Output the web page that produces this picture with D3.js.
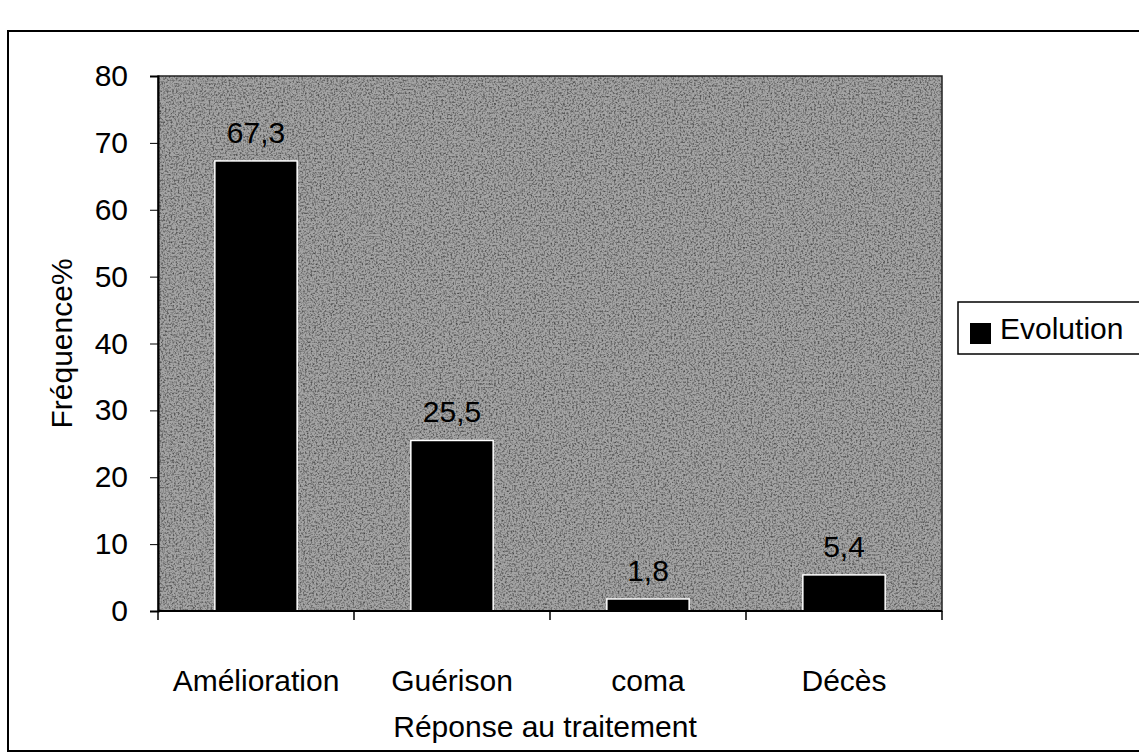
<!DOCTYPE html>
<html>
<head>
<meta charset="utf-8">
<script src="https://cdn.jsdelivr.net/npm/d3@7"></script>
<style>
  body { margin: 0; background: #fff; }
  svg text { font-family: "Liberation Sans", Arial, sans-serif; fill: #000; }
</style>
</head>
<body>
<div id="chart"></div>
<script>
const categories = ['Amélioration', 'Guérison', 'coma', 'Décès'];
const values = [67.3, 25.5, 1.8, 5.4];
const yTicks = [0, 10, 20, 30, 40, 50, 60, 70, 80];
const seriesName = 'Evolution';

const W = 1139, H = 754;
const fontSize = '30px';
// plot area
const plot = { left: 158, top: 76, right: 942, bottom: 611 };

const svg = d3.select('#chart').append('svg')
  .attr('width', W)
  .attr('height', H);

// grainy grey fill like the scanned background
const defs = svg.append('defs');
const f = defs.append('filter').attr('id', 'grain')
  .attr('x', 0).attr('y', 0).attr('width', 1).attr('height', 1);
f.append('feTurbulence')
  .attr('type', 'fractalNoise')
  .attr('baseFrequency', 0.55)
  .attr('numOctaves', 2)
  .attr('seed', 7)
  .attr('result', 'noise');
f.append('feColorMatrix')
  .attr('in', 'noise')
  .attr('type', 'matrix')
  .attr('values', '0 0 0 0 0  0 0 0 0 0  0 0 0 0 0  0 0 0 -2.2 1.25');

// outer frame
svg.append('rect')
  .attr('x', 8).attr('y', 31)
  .attr('width', W + 10).attr('height', 720)
  .attr('fill', 'none')
  .attr('stroke', '#000')
  .attr('stroke-width', 2);

const x = d3.scaleBand()
  .domain(categories)
  .range([plot.left, plot.right])
  .paddingInner(0.58)
  .paddingOuter(0.29);

const y = d3.scaleLinear()
  .domain([0, 80])
  .range([plot.bottom, plot.top]);

// plot background
svg.append('rect')
  .attr('x', plot.left).attr('y', plot.top)
  .attr('width', plot.right - plot.left)
  .attr('height', plot.bottom - plot.top)
  .attr('fill', '#a4a4a4');
svg.append('rect')
  .attr('x', plot.left).attr('y', plot.top)
  .attr('width', plot.right - plot.left)
  .attr('height', plot.bottom - plot.top)
  .attr('fill', '#000')
  .attr('filter', 'url(#grain)')
  .attr('opacity', 0.6);
svg.append('rect')
  .attr('x', plot.left).attr('y', plot.top)
  .attr('width', plot.right - plot.left)
  .attr('height', plot.bottom - plot.top)
  .attr('fill', 'none')
  .attr('stroke', '#222')
  .attr('stroke-width', 1.5);

// bars
svg.selectAll('.bar')
  .data(values)
  .enter()
  .append('rect')
  .attr('class', 'bar')
  .attr('x', (d, i) => x(categories[i]))
  .attr('y', d => y(d))
  .attr('width', x.bandwidth())
  .attr('height', d => y(0) - y(d))
  .attr('fill', '#000')
  .attr('stroke', '#fff')
  .attr('stroke-width', 1.5);

// value labels
svg.selectAll('.val')
  .data(values)
  .enter()
  .append('text')
  .attr('class', 'val')
  .attr('x', (d, i) => x(categories[i]) + x.bandwidth() / 2)
  .attr('y', d => y(d) - 18)
  .attr('text-anchor', 'middle')
  .style('font-size', fontSize)
  .text(d => String(d).replace('.', ','));

// y axis
const yAxis = svg.append('g')
  .attr('transform', 'translate(' + plot.left + ',0)')
  .call(d3.axisLeft(y).tickValues(yTicks).tickSize(8).tickPadding(22));
yAxis.select('.domain').attr('stroke-width', 2);
yAxis.selectAll('text').style('font-size', fontSize);

// x axis with ticks between categories
const bw = (plot.right - plot.left) / categories.length;
const xAxis = svg.append('g')
  .attr('transform', 'translate(0,' + plot.bottom + ')');
xAxis.append('line')
  .attr('x1', plot.left).attr('x2', plot.right)
  .attr('stroke', '#000').attr('stroke-width', 2);
xAxis.selectAll('.xt')
  .data(d3.range(categories.length + 1))
  .enter()
  .append('line')
  .attr('x1', i => plot.left + i * bw)
  .attr('x2', i => plot.left + i * bw)
  .attr('y1', 0).attr('y2', 9)
  .attr('stroke', '#000')
  .attr('stroke-width', 1.5);
xAxis.selectAll('.xl')
  .data(categories)
  .enter()
  .append('text')
  .attr('x', d => x(d) + x.bandwidth() / 2)
  .attr('y', 80)
  .attr('text-anchor', 'middle')
  .style('font-size', fontSize)
  .text(d => d);

// axis titles
svg.append('text')
  .attr('x', plot.left + (plot.right - plot.left) / 2 - 5)
  .attr('y', 737)
  .attr('text-anchor', 'middle')
  .style('font-size', fontSize)
  .text('Réponse au traitement');

svg.append('text')
  .attr('transform', 'translate(72,' + (plot.top + plot.bottom) / 2 + ') rotate(-90)')
  .attr('text-anchor', 'middle')
  .style('font-size', fontSize)
  .text('Fréquence%');

// legend
const lg = svg.append('g').attr('transform', 'translate(958,302)');
lg.append('rect')
  .attr('width', 182).attr('height', 52)
  .attr('fill', '#fff')
  .attr('stroke', '#000')
  .attr('stroke-width', 1.5);
lg.append('rect')
  .attr('x', 12).attr('y', 21)
  .attr('width', 21).attr('height', 21)
  .attr('fill', '#000');
lg.append('text')
  .attr('x', 42).attr('y', 37)
  .style('font-size', fontSize)
  .text(seriesName);
</script>
</body>
</html>
